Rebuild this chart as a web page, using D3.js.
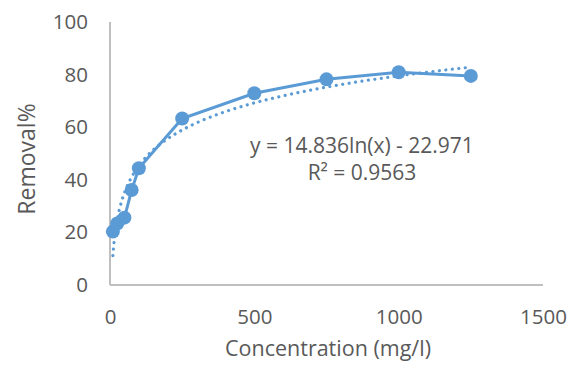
<!DOCTYPE html>
<html>
<head>
<meta charset="utf-8">
<script src="https://cdn.jsdelivr.net/npm/d3@7"></script>
<style>
  body { margin: 0; background: #fff; }
  text { font-family: "Open Sans", sans-serif; fill: #595959; }
</style>
</head>
<body>
<svg id="chart" width="578" height="367"></svg>
<script>
// measured points
var concentration = [10, 25, 50, 75, 100, 250, 500, 750, 1000, 1250];
var removal = [20.3, 23.4, 25.6, 36.1, 44.4, 63.3, 72.9, 78.2, 80.9, 79.5];
var xTicks = [0, 500, 1000, 1500];
var yTicks = [0, 20, 40, 60, 80, 100];
// log trendline shown on the chart
var trendA = 14.836;
var trendB = -22.971;
var trendLabel = ["y = 14.836ln(x) - 22.971", "R\u00b2 = 0.9563"];

var blue = "#5B9BD5";
var svg = d3.select("#chart");

var x = d3.scaleLinear().domain([0, 1500]).range([110, 543]);
var y = d3.scaleLinear().domain([0, 100]).range([285, 22]);

// axes
var xAxis = svg.append("g").attr("transform", "translate(0,285)")
  .call(d3.axisBottom(x).tickValues(xTicks).tickFormat(d3.format("d")).tickSize(0).tickPadding(24));
var yAxis = svg.append("g").attr("transform", "translate(110,0)")
  .call(d3.axisLeft(y).tickValues(yTicks).tickFormat(d3.format("d")).tickSize(0).tickPadding(22));

[xAxis, yAxis].forEach(function(a) {
  a.select(".domain").attr("stroke", "#BFBFBF").attr("stroke-width", 2);
  a.selectAll("text").style("font-size", "20.5px").attr("fill", "#595959");
});
yAxis.select(".domain").attr("d", "M0,22V285");
xAxis.select(".domain").attr("d", "M110,0H543");

// data line
var line = d3.line().x(function(d, i) { return x(concentration[i]); }).y(function(d) { return y(d); });
svg.append("path").datum(removal)
  .attr("d", line)
  .attr("fill", "none")
  .attr("stroke", blue)
  .attr("stroke-width", 3);

svg.selectAll("circle.pt").data(removal).enter().append("circle")
  .attr("class", "pt")
  .attr("cx", function(d, i) { return x(concentration[i]); })
  .attr("cy", function(d) { return y(d); })
  .attr("r", 7)
  .attr("fill", blue);

// trendline
var xs = d3.range(concentration[0], concentration[concentration.length - 1] + 1, 2);
var trend = d3.line().x(function(d) { return x(d); }).y(function(d) { return y(trendA * Math.log(d) + trendB); });
svg.append("path").datum(xs)
  .attr("d", trend)
  .attr("fill", "none")
  .attr("stroke", blue)
  .attr("stroke-width", 3.2)
  .attr("stroke-linecap", "round")
  .attr("stroke-dasharray", "0.01 6.5");

// equation label
svg.append("text").attr("x", 362).attr("y", 153).attr("text-anchor", "middle")
  .style("font-size", "21px").text(trendLabel[0]);
svg.append("text").attr("x", 362).attr("y", 180).attr("text-anchor", "middle")
  .style("font-size", "21px").text(trendLabel[1]);

// axis titles
svg.append("text").attr("x", 328).attr("y", 356).attr("text-anchor", "middle")
  .style("font-size", "21.5px").text("Concentration (mg/l)");
svg.append("text").attr("transform", "translate(35,159) rotate(-90)").attr("text-anchor", "middle")
  .style("font-size", "23px").text("Removal%");
</script>
</body>
</html>
